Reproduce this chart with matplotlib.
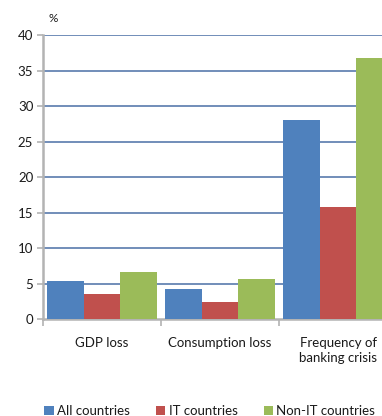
import matplotlib

matplotlib.use("Agg")
import matplotlib.pyplot as plt
import numpy as np

plt.rcParams["font.family"] = ["Lato", "DejaVu Sans"]

categories = ["GDP loss", "Consumption loss", "Frequency of\nbanking crisis"]
series_names = ["All countries", "IT countries", "Non-IT countries"]
all_countries = [5.4, 4.3, 28.1]
it_countries = [3.6, 2.4, 15.8]
non_it_countries = [6.7, 5.7, 36.8]
y_ticks = [0, 5, 10, 15, 20, 25, 30, 35, 40]

C_BLUE, C_RED, C_GREEN = "#4F81BD", "#C0504D", "#9BBB59"
C_GRID, C_AXIS, C_INK = "#4A6FA5", "#B3B3B3", "#1A1A1A"

fig = plt.figure(figsize=(3.82, 4.16), dpi=100)
ax = fig.add_axes([0.1126, 0.232, 0.927, 0.684])

x = np.arange(len(categories)) + 0.5
w = 0.31
for i, (vals, col, name) in enumerate(zip([all_countries, it_countries, non_it_countries],
                                           [C_BLUE, C_RED, C_GREEN], series_names)):
    ax.bar(x + (i - 1) * w, vals, width=w, color=col, label=name, zorder=3, lw=0)

ax.set_xlim(0, 3)
ax.set_ylim(0, 40)
ax.set_yticks(y_ticks)
ax.set_yticklabels([str(t) for t in y_ticks])
for t in y_ticks[1:]:
    ax.axhline(t, color=C_GRID, lw=1.1, zorder=1)

for side in ("top", "right"):
    ax.spines[side].set_visible(False)
ax.spines["left"].set_color(C_AXIS)
ax.spines["left"].set_linewidth(1.8)
ax.spines["bottom"].set_color(C_AXIS)
ax.spines["bottom"].set_linewidth(1.8)
ax.tick_params(axis="y", colors=C_AXIS, labelcolor=C_INK, labelsize=9.5,
               length=4, width=1.2, pad=3)

# category boundaries as ticks, labels centred under each group
ax.set_xticks([0, 1, 2, 3])
ax.set_xticklabels([])
ax.tick_params(axis="x", colors=C_AXIS, length=5, width=1.2)
for xc, lab in zip(x, categories):
    ax.text(xc, -2.5, lab, ha="center", va="top", fontsize=9.5, color=C_INK,
            linespacing=1.3)

ax.text(0.015, 1.045, "%", transform=ax.transAxes, fontsize=8.5, color=C_INK)

fig.legend(loc="lower left", bbox_to_anchor=(0.085, -0.032), ncol=3, frameon=False,
           fontsize=9.5, handlelength=0.7, handleheight=0.7, handletextpad=0.25,
           columnspacing=2.0, labelcolor=C_INK)

fig.savefig("out.png", dpi=100)
